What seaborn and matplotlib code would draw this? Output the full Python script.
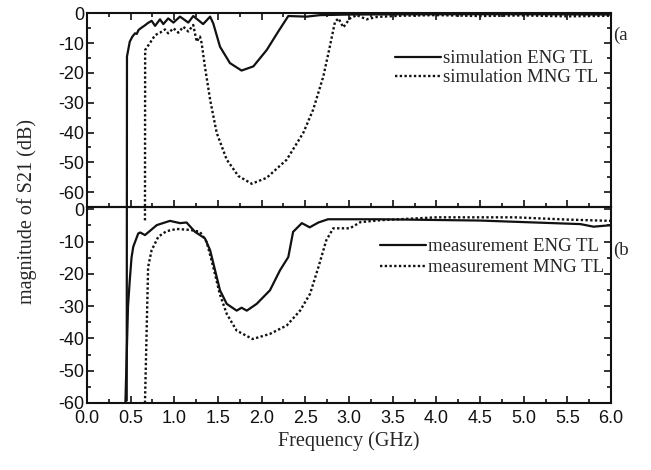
import matplotlib
matplotlib.use("Agg")
import matplotlib.pyplot as plt
from matplotlib.ticker import MultipleLocator
import seaborn as sns
import pandas as pd

# simulated S21 (top panel)
sim_eng_f = [0.455, 0.458, 0.49, 0.52, 0.55, 0.57, 0.59, 0.62, 0.66, 0.70, 0.74, 0.78,
             0.836, 0.874, 0.93, 0.99, 1.065, 1.16, 1.217, 1.33, 1.41, 1.446, 1.523,
             1.637, 1.77, 1.905, 2.058, 2.19, 2.305, 2.515, 2.668, 3.0, 4.0, 5.0, 6.0]
sim_eng_db = [-130, -14.5, -9.5, -7.8, -6.7, -6.9, -5.6, -4.9, -4.1, -3.2, -2.5, -4.2,
              -2.0, -3.6, -1.7, -3.1, -1.1, -3.1, -0.9, -3.6, -1.1, -3.4, -11.2,
              -16.7, -19.2, -17.8, -12.3, -6.1, -0.9, -1.1, -0.6, -0.4, -0.3, -0.3, -0.4]

sim_mng_f = [0.664, 0.666, 0.72, 0.78, 0.836, 0.893, 0.93, 0.99, 1.046, 1.103, 1.16,
             1.217, 1.256, 1.294, 1.313, 1.35, 1.41, 1.485, 1.60, 1.733, 1.886, 2.058,
             2.287, 2.477, 2.59, 2.706, 2.78, 2.84, 2.88, 2.935, 3.01, 3.09, 3.2, 3.32,
             3.6, 4.0, 4.5, 5.0, 5.5, 6.0]
sim_mng_db = [-69.5, -12.3, -10.0, -7.3, -6.5, -5.4, -6.7, -5.0, -6.5, -4.5, -6.1,
              -3.9, -9.5, -7.8, -10.0, -17.8, -29.0, -40.1, -49.1, -54.6, -57.2, -55.2,
              -49.1, -40.1, -32.3, -21.2, -11.2, -2.8, -1.7, -4.7, -1.7, -0.6, -2.0, -1.2,
              -0.8, -0.6, -0.9, -0.7, -1.0, -0.8]

# measured S21 (bottom panel)
meas_eng_f = [0.44, 0.47, 0.49, 0.51, 0.53, 0.587, 0.61, 0.664, 0.80, 0.95, 1.065, 1.14,
              1.237, 1.35, 1.41, 1.523, 1.60, 1.714, 1.77, 1.83, 1.943, 2.095, 2.21,
              2.305, 2.36, 2.46, 2.55, 2.65, 2.76, 3.355, 4.5, 5.65, 5.80, 5.97, 6.0]
meas_eng_db = [-60, -30, -22, -15, -11.6, -7.5, -7.2, -8.0, -4.9, -3.6, -4.3, -4.1,
               -7.0, -9.0, -12.7, -25.1, -29.3, -31.4, -30.5, -31.4, -29.3, -25.1, -18.9,
               -14.8, -7.0, -4.3, -5.6, -4.1, -3.1, -3.1, -3.5, -4.6, -5.4, -5.0, -5.0]

meas_mng_f = [0.664, 0.70, 0.74, 0.817, 0.91, 1.027, 1.18, 1.294, 1.37, 1.446, 1.52,
              1.60, 1.714, 1.897, 2.095, 2.287, 2.44, 2.554, 2.65, 2.74, 2.82, 3.01,
              3.13, 3.355, 4.0, 4.9, 5.5, 6.0]
meas_mng_db = [-60, -17.9, -12.7, -8.5, -6.8, -6.1, -6.4, -7.0, -10.1, -17.9, -26.2,
               -32.4, -37.6, -40.2, -38.6, -36.0, -31.4, -26.2, -17.9, -9.6, -5.9, -5.9,
               -4.0, -3.4, -2.5, -2.5, -3.2, -3.6]

sns.set_style("ticks")
plt.rcParams["font.family"] = ["Liberation Sans", "DejaVu Sans"]
plt.rcParams["axes.unicode_minus"] = False
serif = ["Liberation Serif", "DejaVu Serif"]

fig = plt.figure(figsize=(6.51, 4.70), dpi=100)
ax1 = fig.add_axes([0.1336, 0.5596, 0.805, 0.412])
ax2 = fig.add_axes([0.1336, 0.1426, 0.805, 0.417])

dots = (0, (1, 1))

sim_eng = pd.DataFrame({"f": sim_eng_f, "db": sim_eng_db})
sim_mng = pd.DataFrame({"f": sim_mng_f, "db": sim_mng_db})
meas_eng = pd.DataFrame({"f": meas_eng_f, "db": meas_eng_db})
meas_mng = pd.DataFrame({"f": meas_mng_f, "db": meas_mng_db})

sns.lineplot(data=sim_eng, x="f", y="db", ax=ax1, color="#111111", lw=1.6,
             sort=False, estimator=None, label="simulation ENG TL")
sns.lineplot(data=sim_mng, x="f", y="db", ax=ax1, color="#111111", lw=1.7,
             linestyle=dots, sort=False, estimator=None, label="simulation MNG TL")
sns.lineplot(data=meas_eng, x="f", y="db", ax=ax2, color="#111111", lw=1.6,
             sort=False, estimator=None, label="measurement ENG TL")
sns.lineplot(data=meas_mng, x="f", y="db", ax=ax2, color="#111111", lw=1.7,
             linestyle=dots, sort=False, estimator=None, label="measurement MNG TL")

# the top-panel curves run past the panel edge in the original
for line in ax1.get_lines():
    line.set_clip_on(False)
ax1.set_zorder(3)
ax1.patch.set_alpha(0)

for ax in (ax1, ax2):
    ax.set_xlim(0, 6.0)
    ax.xaxis.set_major_locator(MultipleLocator(0.5))
    ax.xaxis.set_minor_locator(MultipleLocator(0.25))
    ax.yaxis.set_minor_locator(MultipleLocator(5))
    ax.set_yticks([0, -10, -20, -30, -40, -50, -60])
    ax.tick_params(which="both", direction="in", right=True, width=1.2,
                   labelsize=13, colors="#111111")
    ax.tick_params(axis="y", pad=2)
    ax.tick_params(axis="x", pad=5)
    ax.tick_params(which="major", length=5)
    ax.tick_params(which="minor", length=3)
    for s in ax.spines.values():
        s.set_linewidth(1.5)
        s.set_color("#111111")
    ax.set_xlabel("")
    ax.set_ylabel("")

ax1.set_ylim(-65, 0)
ax1.tick_params(which="both", top=True, labelbottom=False)
ax2.set_ylim(-60, 0.7)
ax2.set_xticks([i * 0.5 for i in range(13)])
ax2.set_xticklabels([f"{i * 0.5:.1f}" for i in range(13)])

leg_kw = dict(frameon=False, loc="upper right", borderpad=0, borderaxespad=0,
              handlelength=2.45, handletextpad=0.1,
              prop={"family": serif, "size": 13.5})
ax1.legend(bbox_to_anchor=(0.975, 0.81), labelspacing=0.1, **leg_kw)
ax2.legend(bbox_to_anchor=(0.987, 0.84), labelspacing=0.2, **leg_kw)

fig.text(0.942, 1 - 35 / 470, "(a", family=serif, fontsize=13.5, va="center")
fig.text(0.942, 1 - 250 / 470, "(b", family=serif, fontsize=13.5, va="center")
fig.text(0.041, 1 - 212 / 470, "magnitude of S21 (dB)", family=serif, fontsize=14.5,
         rotation=90, ha="center", va="center")
fig.text(0.536, 1 - 441 / 470, "Frequency (GHz)", family=serif, fontsize=14.5,
         ha="center", va="center")

fig.savefig("out.png", dpi=100)
